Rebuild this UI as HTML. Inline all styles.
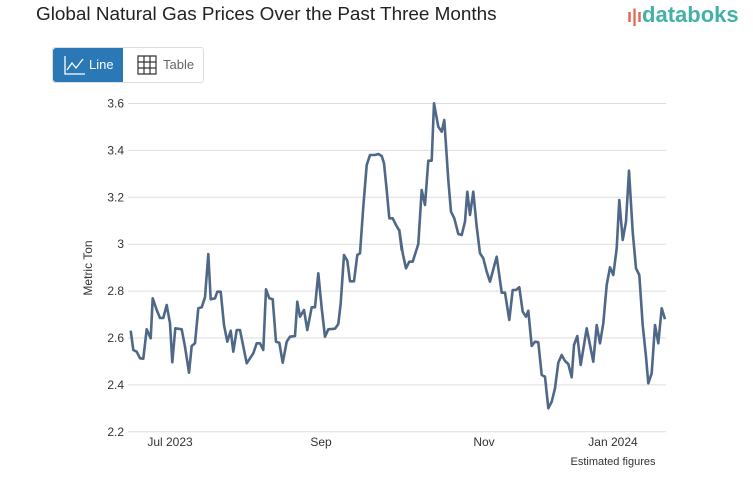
<!DOCTYPE html><html><head><style>
body{margin:0;width:753px;height:498px;background:#fff;font-family:"Liberation Sans",sans-serif;position:relative;overflow:hidden}
.t{position:absolute;left:36px;top:4px;font-size:18.9px;color:#222}
.logo{position:absolute;left:627px;top:2px;font-size:22px;color:#45b0a8;font-weight:bold}
.btns{position:absolute;left:52px;top:47px;width:150px;height:34px;border:1px solid #ddd;border-radius:3px}
.b1{position:absolute;left:0;top:0;width:70px;height:34px;background:#2a78b5;border-radius:3px 0 0 3px;color:#fff;font-size:13px}
.b2{position:absolute;left:82px;top:9px;color:#666;font-size:13px}
</style></head><body>
<div class="t">Global Natural Gas Prices Over the Past Three Months</div>
<div class="logo"><span style="color:#e06b52;font-size:18px">ı|ı</span>databoks</div>
<div class="btns"><div class="b1"><svg width="24" height="22" style="position:absolute;left:10px;top:6px"><path d="M2 2V20H22M4 16L9 9L13 14L20 5" stroke="#fff" fill="none" stroke-width="1.3"/></svg><span style="position:absolute;left:36px;top:9px">Line</span></div>
<svg width="22" height="22" style="position:absolute;left:83px;top:6px"><path d="M2 2H20V20H2ZM2 8H20M2 14H20M8 2V20M14 2V20" stroke="#333" fill="none" stroke-width="1.2"/></svg><span class="b2" style="left:110px">Table</span></div>
<svg width="753" height="498" style="position:absolute;left:0;top:0" id="s"></svg>
<script>
var s=document.getElementById('s'),h='';
var labs=['3.6','3.4','3.2','3','2.8','2.6','2.4','2.2'];
for(var i=0;i<8;i++){var y=103.5+i*46.9;h+='<line x1="128" x2="666" y1="'+y+'" y2="'+y+'" stroke="#ddd"/><text x="124" y="'+(y+4)+'" text-anchor="end" font-size="12" fill="#333">'+labs[i]+'</text>';}
[[170,'Jul 2023'],[321,'Sep'],[484,'Nov'],[613,'Jan 2024']].forEach(function(a){h+='<text x="'+a[0]+'" y="446" text-anchor="middle" font-size="12" fill="#333">'+a[1]+'</text>'});
h+='<text x="613" y="465" text-anchor="middle" font-size="11" fill="#333">Estimated figures</text>';
h+='<text transform="translate(92,268) rotate(-90)" text-anchor="middle" font-size="12" fill="#333">Metric Ton</text>';
var p1=[32,722,40,780,50,785,60,805,70,806,80,718,92,745,98,625,110,660,120,684,130,684,140,645,150,700,157,817,166,715,185,718,195,770,207,848,215,768,225,760,235,655,245,652,255,622,265,492,272,628,285,625,292,605,302,605,312,705,322,755,332,722,340,785,350,720,360,720,380,820,390,805,400,790,410,760,420,760,430,780,438,598,448,625,458,628,468,755,478,758,488,818,500,755,510,740,525,738,532,635,540,680,552,660,562,720,575,652,585,652,595,550,605,655,615,740,625,718,645,716,655,702,662,640,672,495,682,512,690,574,702,574,712,495,720,490,730,350,740,225,750,195,765,195,775,192,785,198,792,220,800,300,808,385,818,385,828,405,838,422,845,480];
var p2=[28,420,38,490,48,535,58,515,68,515,85,462,95,300,105,345,115,212,125,212,132,40,145,110,155,125,163,90,175,270,183,365,193,385,205,432,215,435,225,395,232,305,240,375,250,305,260,410,270,490,280,505,290,545,300,575,320,500,335,608,345,608,358,690,368,600,378,600,388,592,398,665,408,680,415,662,425,768,435,755,445,757,455,855,465,860,475,955,485,935,495,895,505,818,515,795,525,813,535,822,545,862,552,765,562,738,572,825,590,715,610,815,620,705,630,760,640,700,650,585,660,532,670,555,680,475,688,330,698,450,708,395,717,242,728,425,738,535,748,555,758,705,768,800,775,880,785,850,795,705,805,760,815,655,825,688];
var pts=[];for(i=0;i<p1.length;i+=2)pts.push((120+p1[i]/3).toFixed(1)+','+(90+p1[i+1]/3).toFixed(1));
for(i=0;i<p2.length;i+=2)pts.push((390+p2[i]/3).toFixed(1)+','+(90+p2[i+1]/3).toFixed(1));
h+='<polyline points="'+pts.join(' ')+'" fill="none" stroke="#4f6888" stroke-width="2.6" stroke-linejoin="round"/>';
s.innerHTML=h;
</script>
</body></html>
